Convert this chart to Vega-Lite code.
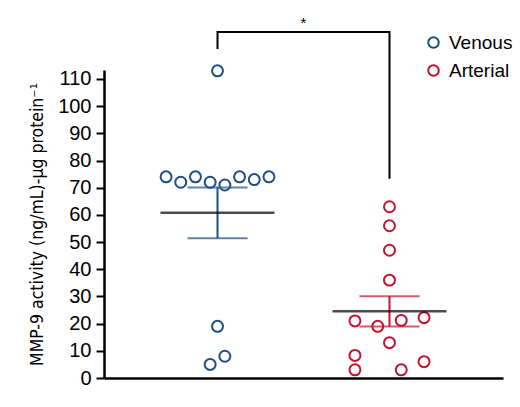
{
  "$schema": "https://vega.github.io/schema/vega-lite/v6.json",
  "width": 399,
  "height": 308,
  "autosize": {"type": "none"},
  "padding": {"left": 104, "top": 70, "right": 17, "bottom": 29},
  "background": "white",
  "config": {
    "view": {"stroke": null},
    "font": "Liberation Sans"
  },
  "datasets": {
    "pts": [
      {"group": "Venous", "value": 113, "slot": 0},
      {"group": "Venous", "value": 74, "slot": -3.5},
      {"group": "Venous", "value": 72, "slot": -2.5},
      {"group": "Venous", "value": 74, "slot": -1.5},
      {"group": "Venous", "value": 72, "slot": -0.5},
      {"group": "Venous", "value": 71, "slot": 0.5},
      {"group": "Venous", "value": 74, "slot": 1.5},
      {"group": "Venous", "value": 73, "slot": 2.5},
      {"group": "Venous", "value": 74, "slot": 3.5},
      {"group": "Venous", "value": 19, "slot": 0},
      {"group": "Venous", "value": 5, "slot": -0.5},
      {"group": "Venous", "value": 8, "slot": 0.5},
      {"group": "Arterial", "value": 63, "slot": 0},
      {"group": "Arterial", "value": 56, "slot": 0},
      {"group": "Arterial", "value": 47, "slot": 0},
      {"group": "Arterial", "value": 36, "slot": 0},
      {"group": "Arterial", "value": 21, "slot": -2.35},
      {"group": "Arterial", "value": 19, "slot": -0.8},
      {"group": "Arterial", "value": 21.2, "slot": 0.8},
      {"group": "Arterial", "value": 22.2, "slot": 2.35},
      {"group": "Arterial", "value": 13, "slot": 0},
      {"group": "Arterial", "value": 8.3, "slot": -2.35},
      {"group": "Arterial", "value": 3, "slot": -2.35},
      {"group": "Arterial", "value": 3, "slot": 0.8},
      {"group": "Arterial", "value": 6, "slot": 2.35}
    ],
    "bracket": [
      {"group": "Venous", "value": 121, "order": 1},
      {"group": "Venous", "value": 127.3, "order": 2},
      {"group": "Arterial", "value": 127.3, "order": 3},
      {"group": "Arterial", "value": 73.3, "order": 4}
    ],
    "sig": [
      {"group": "Venous", "value": 130.5, "label": "*"}
    ]
  },
  "encoding": {
    "x": {
      "field": "group", "type": "nominal",
      "scale": {"type": "point", "domain": ["Venous", "Arterial"], "padding": 0.66},
      "axis": {"title": null, "labels": false, "ticks": false, "domainColor": "black", "domainWidth": 2.5}
    },
    "y": {
      "field": "value", "type": "quantitative",
      "scale": {"domain": [0, 113.3], "nice": false, "zero": true},
      "axis": {
        "title": "MMP-9 activity (ng/mL)-µg protein⁻¹",
        "titleFont": "DejaVu Sans Condensed",
        "titleFontSize": 17.5,
        "titleFontWeight": "normal",
        "titleColor": "black",
        "titlePadding": 11,
        "values": [0, 10, 20, 30, 40, 50, 60, 70, 80, 90, 100, 110],
        "grid": false,
        "domainColor": "black",
        "domainWidth": 2.5,
        "tickColor": "black",
        "tickWidth": 2,
        "tickSize": 8,
        "labelFontSize": 20,
        "labelColor": "black",
        "labelPadding": 5
      }
    }
  },
  "layer": [
    {
      "data": {"name": "pts"},
      "mark": {"type": "point", "shape": "circle", "filled": false, "size": 120, "strokeWidth": 2, "opacity": 1},
      "encoding": {
        "xOffset": {"field": "slot", "type": "quantitative", "scale": {"domain": [-4, 4], "range": [-58.8, 58.8]}},
        "stroke": {
          "field": "group", "type": "nominal",
          "scale": {"domain": ["Venous", "Arterial"], "range": ["#1d4f80", "#c41230"]},
          "legend": {
            "title": null,
            "orient": "none",
            "legendX": 320,
            "legendY": -37,
            "labelFontSize": 19,
            "labelColor": "black",
            "symbolType": "circle",
            "symbolSize": 110,
            "symbolStrokeWidth": 2,
            "symbolFillColor": "white",
            "rowPadding": 8,
            "labelOffset": 6
          }
        }
      }
    },
    {
      "data": {"name": "pts"},
      "transform": [{"filter": "datum.group === 'Venous'"}],
      "mark": {"type": "errorbar", "extent": "stderr", "thickness": 2, "color": "#1d4f80", "ticks": {"size": 60, "thickness": 2}}
    },
    {
      "data": {"name": "pts"},
      "transform": [{"filter": "datum.group === 'Arterial'"}],
      "mark": {"type": "errorbar", "extent": "stderr", "thickness": 2, "color": "#c41230", "ticks": {"size": 60, "thickness": 2}}
    },
    {
      "data": {"name": "pts"},
      "transform": [{"aggregate": [{"op": "mean", "field": "value", "as": "value"}], "groupby": ["group"]}],
      "mark": {"type": "tick", "color": "black", "size": 114, "thickness": 2.5}
    },
    {
      "data": {"name": "bracket"},
      "mark": {"type": "line", "color": "black", "strokeWidth": 2, "strokeJoin": "miter", "strokeCap": "butt", "clip": false},
      "encoding": {
        "order": {"field": "order", "type": "quantitative"}
      }
    },
    {
      "data": {"name": "sig"},
      "mark": {"type": "text", "dx": 86, "fontSize": 15, "color": "black", "baseline": "middle", "align": "center"},
      "encoding": {
        "text": {"field": "label"}
      }
    }
  ]
}
